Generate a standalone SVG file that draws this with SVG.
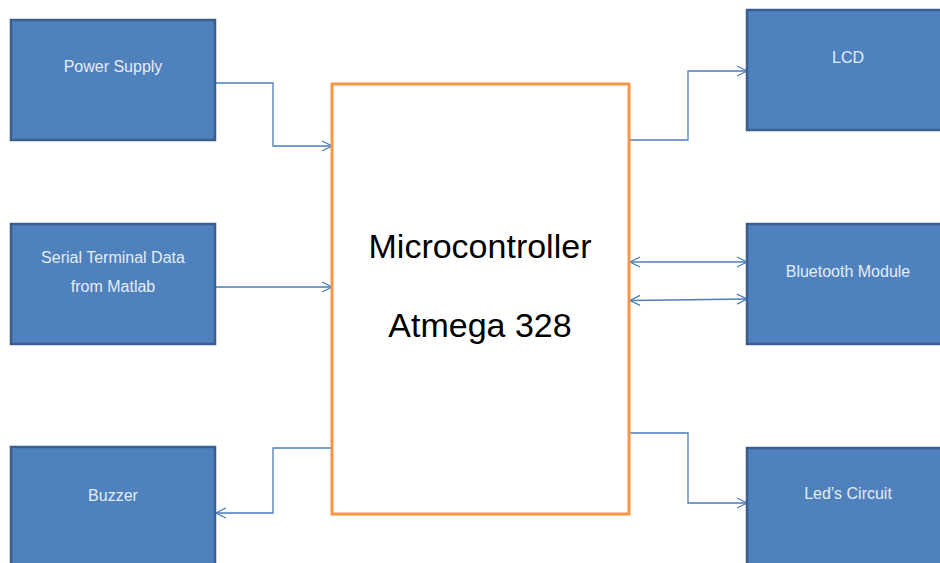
<svg xmlns="http://www.w3.org/2000/svg" width="940" height="563" viewBox="0 0 940 563">
<defs>
<style>
.box{fill:#4f81bd;stroke:#3a5f8e;stroke-width:2.5}
.lbl{font-family:"Liberation Sans",Arial,sans-serif;font-size:16px;fill:#e4ecf6;text-anchor:middle}
.big{font-family:"Liberation Sans",Arial,sans-serif;font-size:34px;fill:#000;text-anchor:middle}
.con{fill:none;stroke:#4a7ebb;stroke-width:1.3}
</style>
<marker id="ah" viewBox="0 0 12 12" refX="11" refY="6" markerWidth="12" markerHeight="12" markerUnits="userSpaceOnUse" orient="auto-start-reverse">
<path d="M1,1 L11,6 L1,11" fill="none" stroke="#4a7ebb" stroke-width="1.3"/>
</marker>
</defs>
<rect width="940" height="563" fill="#fff"/>
<g id="connectors">
<path class="con" d="M216,83 H273 V146 H332" marker-end="url(#ah)"/>
<path class="con" d="M216,287 H332" marker-end="url(#ah)"/>
<path class="con" d="M332,448 H273 V513 H216" marker-end="url(#ah)"/>
<path class="con" d="M630,140 H688 V71 H747" marker-end="url(#ah)"/>
<path class="con" d="M630,262 H747" marker-start="url(#ah)" marker-end="url(#ah)"/>
<path class="con" d="M630,300.5 L747,299" marker-start="url(#ah)" marker-end="url(#ah)"/>
<path class="con" d="M630,433 H688 V503 H747" marker-end="url(#ah)"/>
</g>
<g id="power-supply">
<rect class="box" x="11" y="20" width="204" height="120"/>
<text class="lbl" x="113" y="72">Power Supply</text>
</g>
<g id="serial-terminal">
<rect class="box" x="11" y="224" width="204" height="120"/>
<text class="lbl" x="113" y="263">Serial Terminal Data</text>
<text class="lbl" x="113" y="292">from Matlab</text>
</g>
<g id="buzzer">
<rect class="box" x="11" y="447" width="204" height="130"/>
<text class="lbl" x="113" y="501">Buzzer</text>
</g>
<g id="microcontroller">
<rect x="332" y="84" width="297" height="430" fill="#fff" stroke="#f79646" stroke-width="3"/>
<text class="big" x="480" y="258">Microcontroller</text>
<text class="big" x="480" y="337">Atmega 328</text>
</g>
<g id="lcd">
<rect class="box" x="747" y="10" width="204" height="120"/>
<text class="lbl" x="848" y="63">LCD</text>
</g>
<g id="bluetooth">
<rect class="box" x="747" y="224" width="204" height="120"/>
<text class="lbl" x="848" y="277">Bluetooth Module</text>
</g>
<g id="leds-circuit">
<rect class="box" x="747" y="448" width="204" height="130"/>
<text class="lbl" x="848" y="499">Led’s Circuit</text>
</g>
</svg>
